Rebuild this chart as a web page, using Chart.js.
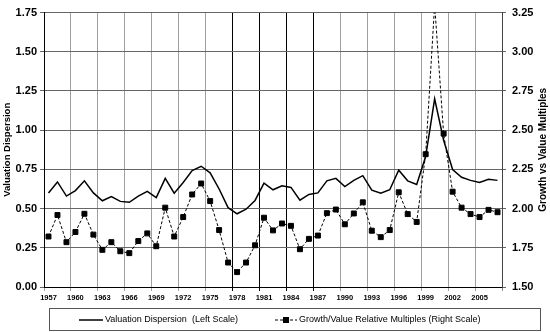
<!DOCTYPE html>
<html>
<head>
<meta charset="utf-8">
<script src="https://cdn.jsdelivr.net/npm/chart.js@4.4.1/dist/chart.umd.min.js"></script>
<style>
  html, body { margin: 0; padding: 0; background: #fff; }
  #wrap { width: 550px; height: 332px; }
</style>
</head>
<body>
<div id="wrap"><canvas id="chart" width="550" height="332"></canvas></div>
<script>
const years = [];
for (let y = 1957; y <= 2007; y++) years.push(String(y));

// valuation dispersion, left scale
const dispersion = [
  0.60, 0.67, 0.58, 0.615, 0.677, 0.60, 0.55, 0.577, 0.546, 0.54,
  0.58, 0.61, 0.57, 0.693, 0.598, 0.666, 0.743, 0.77, 0.728, 0.625,
  0.506, 0.467, 0.496, 0.552, 0.662, 0.62, 0.646, 0.635, 0.554, 0.59,
  0.60, 0.677, 0.693, 0.64, 0.68, 0.71, 0.618, 0.598, 0.62, 0.745,
  0.677, 0.654, 0.832, 1.20, 0.936, 0.749, 0.70, 0.68, 0.666, 0.687, 0.68
];

// growth/value relative multiples, right scale
const multiples = [
  1.822, 1.959, 1.786, 1.851, 1.967, 1.834, 1.737, 1.786, 1.728, 1.716,
  1.793, 1.842, 1.76, 2.006, 1.822, 1.946, 2.09, 2.16, 2.048, 1.863,
  1.656, 1.595, 1.656, 1.766, 1.942, 1.861, 1.905, 1.89, 1.741, 1.807,
  1.828, 1.971, 1.994, 1.90, 1.969, 2.04, 1.859, 1.818, 1.863, 2.104,
  1.965, 1.915, 2.347, 3.30, 2.478, 2.108, 2.006, 1.965, 1.946, 1.992, 1.977
];

const darkYears = ['1978', '1981', '1984', '1987'];
const FONT = "'Liberation Sans', Arial, sans-serif";
const rightTitle = 'Growth vs Value Multiples';

// right axis title reads bottom-to-top, like the left one
const rightAxisTitle = {
  id: 'rightAxisTitle',
  afterDraw(chart) {
    const ctx = chart.ctx;
    const a = chart.chartArea;
    ctx.save();
    ctx.translate(543, (a.top + a.bottom) / 2);
    ctx.rotate(-Math.PI / 2);
    ctx.font = 'bold 10px ' + FONT;
    ctx.fillStyle = '#000';
    ctx.textAlign = 'center';
    ctx.textBaseline = 'middle';
    ctx.fillText(rightTitle, 0, 0);
    ctx.restore();
  }
};

// legend drawn inside a bordered box under the axis
const boxLegend = {
  id: 'boxLegend',
  afterDraw(chart) {
    const ctx = chart.ctx;
    const ds = chart.data.datasets;
    const y = 320;
    ctx.save();
    ctx.strokeStyle = '#555';
    ctx.lineWidth = 1;
    ctx.strokeRect(49.5, 308.5, 491, 22);

    ctx.font = '9px ' + FONT;
    ctx.fillStyle = '#000';
    ctx.textBaseline = 'middle';

    // solid sample
    ctx.strokeStyle = '#000';
    ctx.lineWidth = 1.5;
    ctx.beginPath();
    ctx.moveTo(79, y);
    ctx.lineTo(103, y);
    ctx.stroke();
    ctx.fillText(ds[0].label, 105, y);

    // dashed sample with marker
    ctx.lineWidth = 1;
    ctx.setLineDash([3, 2]);
    ctx.beginPath();
    ctx.moveTo(275, y);
    ctx.lineTo(297, y);
    ctx.stroke();
    ctx.setLineDash([]);
    ctx.fillRect(283, y - 3, 6, 6);
    ctx.fillText(ds[1].label, 299, y);
    ctx.restore();
  }
};

new Chart(document.getElementById('chart'), {
  type: 'line',
  data: {
    labels: years,
    datasets: [
      {
        label: 'Valuation Dispersion  (Left Scale)',
        data: dispersion,
        yAxisID: 'yL',
        borderColor: '#000',
        borderWidth: 1.5,
        pointRadius: 0,
        tension: 0
      },
      {
        label: 'Growth/Value Relative Multiples (Right Scale)',
        data: multiples,
        yAxisID: 'yR',
        borderColor: '#000',
        borderWidth: 1,
        borderDash: [3, 2],
        pointStyle: 'rect',
        pointRadius: 3.5,
        pointBorderWidth: 1,
        pointBackgroundColor: '#000',
        pointBorderColor: '#000',
        tension: 0,
        clip: 0
      }
    ]
  },
  options: {
    responsive: false,
    animation: false,
    layout: { padding: { top: 6, bottom: 27, left: 0, right: 0 } },
    plugins: {
      legend: { display: false },
      tooltip: { enabled: false }
    },
    scales: {
      x: {
        type: 'category',
        offset: true,
        afterFit(s) { s.height = 18; },
        grid: {
          offset: true,
          tickLength: 4,
          color: ctx => {
            const i = ctx.index;
            if (i === undefined) return '#888';
            if (i % 3) return 'rgba(0,0,0,0)';
            return darkYears.includes(years[i]) ? '#000' : '#a0a0a0';
          }
        },
        border: { color: '#000', width: 1 },
        ticks: {
          autoSkip: false,
          maxRotation: 0,
          padding: 2,
          color: '#000',
          font: { family: FONT, size: 7.5, weight: 'bold' },
          callback: (v, i) => (i % 3 === 0 ? years[i] : '')
        }
      },
      yL: {
        position: 'left',
        min: 0,
        max: 1.75,
        afterFit(s) { s.width = 44; },
        grid: { color: '#666', tickLength: 4 },
        border: { color: '#000', width: 1 },
        ticks: {
          stepSize: 0.25,
          padding: 3,
          color: '#000',
          font: { family: FONT, size: 11, weight: 'bold' },
          callback: v => v.toFixed(2)
        },
        title: {
          display: true,
          text: 'Valuation Dispersion',
          color: '#000',
          padding: { top: 2, bottom: 0 },
          font: { family: FONT, size: 9.5, weight: 'bold' }
        }
      },
      yR: {
        position: 'right',
        min: 1.5,
        max: 3.25,
        afterFit(s) { s.width = 48; },
        grid: { drawOnChartArea: false, color: '#666', tickLength: 4 },
        border: { color: '#444', width: 1 },
        ticks: {
          stepSize: 0.25,
          padding: 6,
          color: '#000',
          font: { family: FONT, size: 11, weight: 'bold' },
          callback: v => v.toFixed(2)
        }
      }
    }
  },
  plugins: [rightAxisTitle, boxLegend]
});
</script>
</body>
</html>
